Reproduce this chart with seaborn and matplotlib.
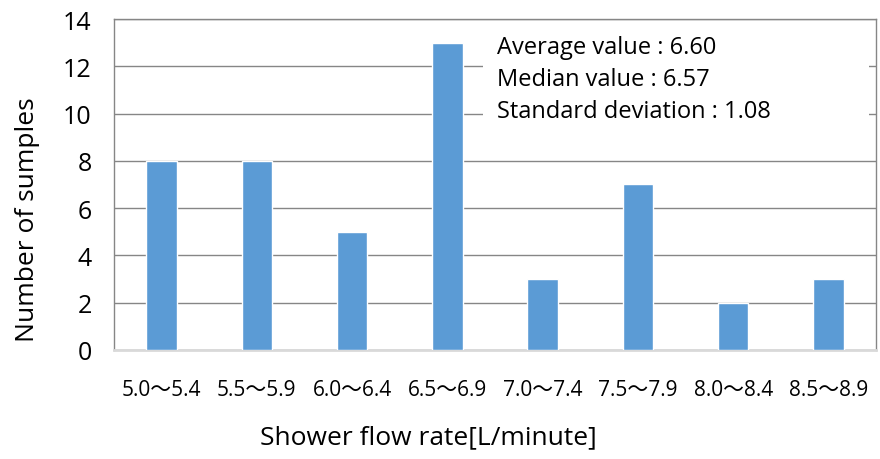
import matplotlib
matplotlib.use("Agg")
import matplotlib.pyplot as plt
from matplotlib.patches import Rectangle
import seaborn as sns
import pandas as pd

categories = ["5.0～5.4", "5.5～5.9", "6.0～6.4", "6.5～6.9",
              "7.0～7.4", "7.5～7.9", "8.0～8.4", "8.5～8.9"]
counts = [8, 8, 5, 13, 3, 7, 2, 3]
y_ticks = [0, 2, 4, 6, 8, 10, 12, 14]
stats_lines = ["Average value : 6.60", "Median value : 6.57", "Standard deviation : 1.08"]

sns.set_theme(style="white")
plt.rcParams['font.family'] = ['Open Sans', 'Noto Sans CJK JP', 'DejaVu Sans']

df = pd.DataFrame({"cat": categories, "n": counts})

fig = plt.figure(figsize=(8.8, 4.6), dpi=100)
ax = fig.add_axes([0.1295, 0.237, 0.866, 0.7195])
sns.barplot(data=df, x="cat", y="n", color="#5B9BD5", saturation=1, width=0.32, ax=ax, zorder=3)

ax.set_ylim(0, 14)
ax.set_yticks(y_ticks)
ax.set_xlim(-0.5, len(categories) - 0.5)
ax.yaxis.grid(True, color="#868686", linewidth=1.0, zorder=0)
ax.set_axisbelow(True)
for s in ["left", "top", "right"]:
    ax.spines[s].set_color("#868686")
    ax.spines[s].set_linewidth(1.0)
ax.spines["bottom"].set_color("#d9d9d9")
ax.spines["bottom"].set_linewidth(2.0)
ax.tick_params(axis="y", labelsize=18, length=0, pad=16, colors="black", labelcolor="black")
ax.tick_params(axis="x", labelsize=15, length=0, pad=21, colors="black", labelcolor="black")
ax.set_xlabel("Shower flow rate[L/minute]", fontsize=19, color="black")
ax.set_ylabel("Number of sumples", fontsize=19, color="black")
ax.xaxis.set_label_coords(0.413, -0.225)
ax.yaxis.set_label_coords(-0.097, 0.396)

ax.add_patch(Rectangle((0.484, 0.668), 0.507, 0.317, transform=ax.transAxes,
                       facecolor="white", edgecolor="none", zorder=4))
ax.text(0.503, 0.952, "\n".join(stats_lines), transform=ax.transAxes,
        fontsize=17, va="top", ha="left", linespacing=1.45, zorder=5, color="black")

fig.savefig("out.png", dpi=100)
